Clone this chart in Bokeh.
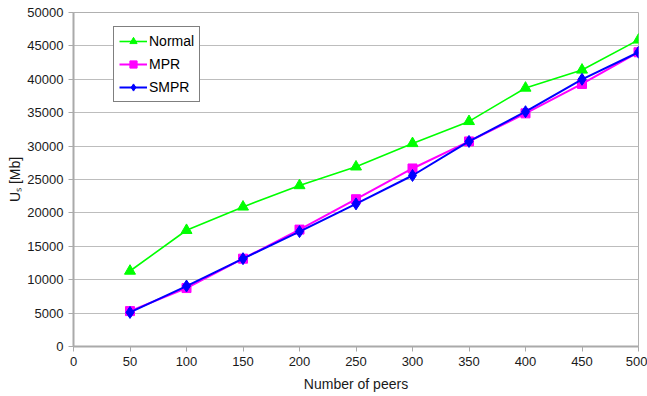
from bokeh.plotting import figure
from bokeh.models import Range1d, FixedTicker, Legend, LegendItem
from bokeh.embed import file_html
from bokeh.resources import INLINE

peers = [50, 100, 150, 200, 250, 300, 350, 400, 450, 500]
normal = [11300, 17400, 20900, 24100, 26900, 30400, 33700, 38700, 41400, 45900]
mpr = [5300, 8750, 13150, 17500, 22050, 26650, 30700, 34900, 39300, 44050]
smpr = [5100, 9050, 13150, 17200, 21350, 25600, 30700, 35150, 40000, 44050]

x_ticks = list(range(0, 501, 50))
y_ticks = list(range(0, 50001, 5000))

FONT = "Liberation Sans"

p = figure(width=647, height=396, output_backend="svg", toolbar_location=None,
           x_range=Range1d(0, 500), y_range=Range1d(0, 50000),
           min_border_left=73, min_border_right=9, min_border_top=12, min_border_bottom=50)
p.background_fill_color = "white"
p.border_fill_color = "white"
p.outline_line_color = "#b0b0b0"
p.outline_line_width = 1

p.xaxis.ticker = FixedTicker(ticks=x_ticks)
p.yaxis.ticker = FixedTicker(ticks=y_ticks)
p.xgrid.grid_line_color = None
p.ygrid.grid_line_color = "#bdbdbd"
p.ygrid.grid_line_width = 1

for ax in (p.xaxis[0], p.yaxis[0]):
    ax.axis_line_color = "#aaaaaa"
    ax.axis_line_width = 2
    ax.major_tick_line_color = "#aaaaaa"
    ax.major_tick_out = 5
    ax.major_tick_in = 0
    ax.minor_tick_line_color = None
    ax.major_label_text_font = FONT
    ax.major_label_text_font_size = "13px"
    ax.major_label_text_color = "#1a1a1a"
    ax.axis_label_text_font = FONT
    ax.axis_label_text_font_size = "14px"
    ax.axis_label_text_font_style = "normal"
    ax.axis_label_text_color = "#1a1a1a"

p.xaxis.axis_label = "Number of peers"
p.yaxis.axis_label = "U\u209b [Mb]"
p.xaxis.major_label_standoff = 5
p.yaxis.major_label_standoff = 5
p.xaxis.axis_label_standoff = 7
p.yaxis.axis_label_standoff = 1

l1 = p.line(peers, normal, line_color="#00ff00", line_width=1.6)
m1 = p.scatter(peers, normal, marker="triangle", size=11, fill_color="#00ff00", line_color="#00ff00")
l2 = p.line(peers, mpr, line_color="#ff00ff", line_width=2)
m2 = p.scatter(peers, mpr, marker="square", size=9, fill_color="#ff00ff", line_color="#ff00ff")
l3 = p.line(peers, smpr, line_color="#0000ff", line_width=2)
m3 = p.scatter(peers, smpr, marker="diamond", size=12, fill_color="#0000ff", line_color="#0000ff")

legend = Legend(items=[LegendItem(label="Normal", renderers=[l1, m1]),
                       LegendItem(label="MPR", renderers=[l2, m2]),
                       LegendItem(label="SMPR", renderers=[l3, m3])],
                location=(40, 244))
legend.border_line_color = "black"
legend.border_line_width = 1
legend.background_fill_alpha = 1
legend.label_text_font = FONT
legend.label_text_font_size = "14px"
legend.label_text_color = "black"
legend.padding = 5
legend.spacing = 5
legend.margin = 0
legend.glyph_width = 28
legend.glyph_height = 18
legend.label_height = 18
legend.label_standoff = 2
p.add_layout(legend, "center")

open("out.html", "w").write(file_html(p, INLINE))
